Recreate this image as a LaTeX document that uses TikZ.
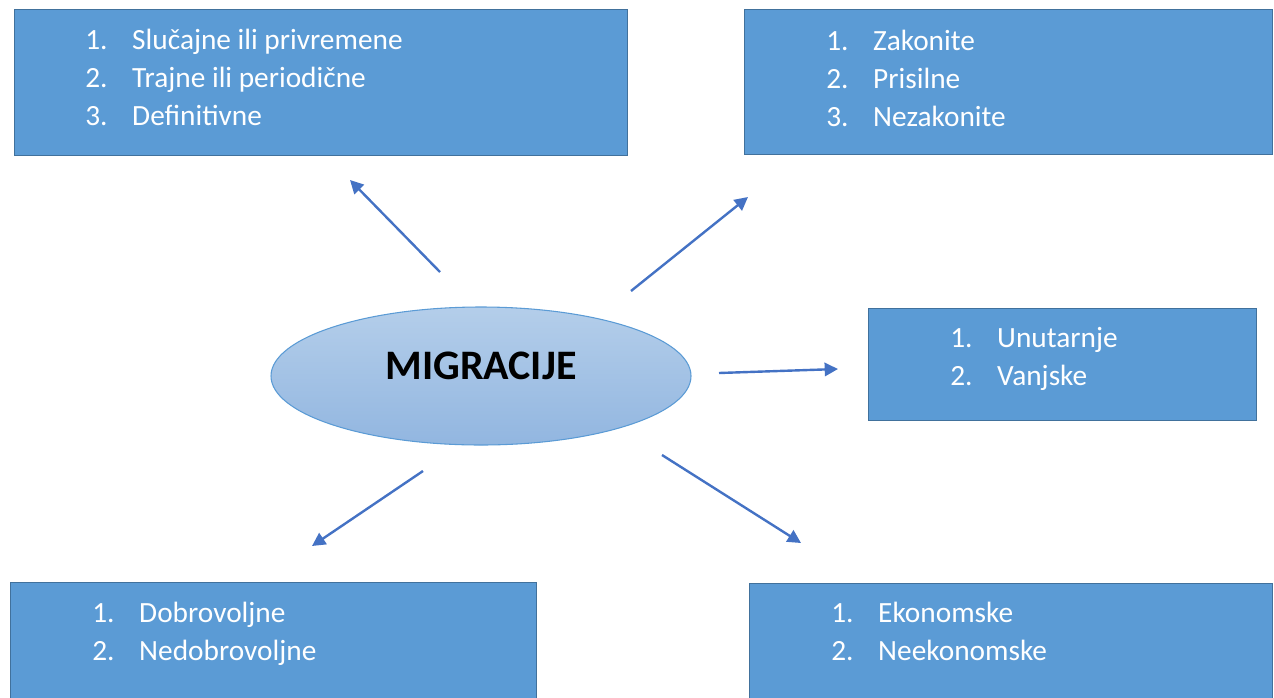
\documentclass[tikz,border=0pt]{standalone}
\usepackage{fontspec}
\setmainfont{Carlito}
\usetikzlibrary{arrows.meta, positioning, shapes.geometric}
\definecolor{boxfill}{HTML}{5B9BD5}
\definecolor{boxline}{HTML}{41719C}
\definecolor{arrowblue}{HTML}{4472C4}
\definecolor{elltop}{HTML}{B4CEEA}
\definecolor{ellbot}{HTML}{92B6E0}
\newcommand{\twolist}[2]{\begin{tabular}[t]{@{}p{35.25pt}@{}l@{}}1. & #1\\ 2. & #2\end{tabular}}
\newcommand{\threelist}[3]{\begin{tabular}[t]{@{}p{35.25pt}@{}l@{}}1. & #1\\ 2. & #2\\ 3. & #3\end{tabular}}

\begin{document}
\begin{tikzpicture}[x=0.75pt, y=-0.75pt, >={Triangle[length=10pt,width=10pt]},
	box/.style={draw=boxline, line width=1pt, fill=boxfill, anchor=north west, inner sep=0pt},
	lst/.style={anchor=base west, inner sep=0pt, text=white, font=\fontsize{22}{28.5}\selectfont},
	arr/.style={->, draw=arrowblue, line width=1.8pt}]
		\useasboundingbox (0,0) rectangle (1274,697);
		\node[ellipse, draw=boxfill, line width=0.8pt, top color=elltop, bottom color=ellbot, minimum width=315pt, minimum height=103.5pt, inner sep=0pt] (mig) at (481,376) {};
		\node[font=\bfseries\fontsize{31.5}{36}\selectfont] (migtxt) at (481,366) {MIGRACIJE};

		\node[box, minimum width=459.75pt, minimum height=109.5pt] (vrijeme) at (14,9) {}; \node[lst] (vrijemelist) at (85,49) {\threelist{Slučajne ili privremene}{Trajne ili periodične}{Definitivne}};
		\node[box, minimum width=396pt, minimum height=108.75pt] (zakon) at (744,9) {}; \node[lst] (zakonlist) at (826,50) {\threelist{Zakonite}{Prisilne}{Nezakonite}};
		\node[box, minimum width=291pt, minimum height=84pt] (prostor) at (868,308) {}; \node[lst] (prostorlist) at (950,347) {\twolist{Unutarnje}{Vanjske}};
		\node[box, minimum width=394.5pt, minimum height=90pt] (volja) at (10,582) {}; \node[lst] (voljalist) at (92,622) {\twolist{Dobrovoljne}{Nedobrovoljne}};
		\node[box, minimum width=392.25pt, minimum height=90pt] (uzrok) at (749,583) {}; \node[lst] (uzroklist) at (831,622) {\twolist{Ekonomske}{Neekonomske}};

		\coordinate (s1) at (440,272); \coordinate (e1) at (350,180); \draw[arr] (s1) -- (e1);
		\coordinate (s2) at (631,291); \coordinate (e2) at (748,197); \draw[arr] (s2) -- (e2);
		\coordinate (s3) at (719,373); \coordinate (e3) at (838,369); \draw[arr] (s3) -- (e3);
		\coordinate (s4) at (423,471); \coordinate (e4) at (312,546); \draw[arr] (s4) -- (e4);
		\coordinate (s5) at (662,455); \coordinate (e5) at (801,543); \draw[arr] (s5) -- (e5);
\end{tikzpicture}
\end{document}
